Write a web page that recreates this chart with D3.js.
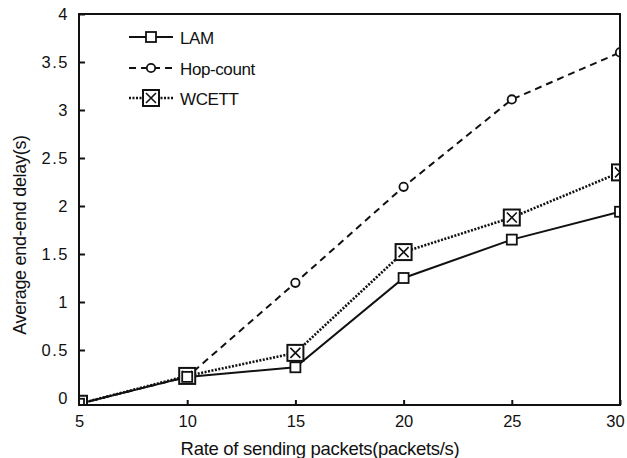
<!DOCTYPE html>
<html><head><meta charset="utf-8">
<script src="https://cdn.jsdelivr.net/npm/d3@7/dist/d3.min.js"></script>
<style>body{margin:0;background:#fff}svg{display:block}</style>
</head><body>
<script>
const rates = [5, 10, 15, 20, 25, 30];
const lam = [-0.06, 0.22, 0.32, 1.25, 1.65, 1.94];
const hop = [-0.06, 0.22, 1.2, 2.2, 3.11, 3.6];
const wcett = [-0.06, 0.23, 0.47, 1.52, 1.88, 2.35];
const yTicks = [0, 0.5, 1, 1.5, 2, 2.5, 3, 3.5, 4];
const seriesNames = ["LAM", "Hop-count", "WCETT"];

const W = 627, H = 458;
const svg = d3.select("body").append("svg").attr("width", W).attr("height", H);
const font = "Liberation Sans, Arial, sans-serif";
const x = d3.scaleLinear().domain([5, 30]).range([79, 620]);
const y = d3.scaleLinear().domain([0, 4]).range([398, 14]);
const yBottom = 405;

svg.append("clipPath").attr("id", "plot").append("rect")
  .attr("x", 79).attr("y", 14).attr("width", 541).attr("height", yBottom - 14);

// frame
svg.append("rect").attr("x", 79).attr("y", 14).attr("width", 541).attr("height", yBottom - 14)
  .attr("fill", "none").attr("stroke", "#111").attr("stroke-width", 2);

// y axis ticks
const ya = svg.append("g").attr("transform", "translate(79,0)")
  .call(d3.axisLeft(y).tickValues(yTicks).tickSize(-6).tickPadding(10).tickFormat(d => d % 1 ? d3.format(".1f")(d) : String(d)));
ya.select(".domain").remove();
ya.selectAll("line").attr("stroke", "#111").attr("stroke-width", 2);
ya.selectAll("text").attr("font-family", font).attr("font-size", 16.5).attr("fill", "#111").attr("letter-spacing", "1.5px");

// x axis ticks
const xa = svg.append("g").attr("transform", `translate(0,${yBottom})`)
  .call(d3.axisBottom(x).tickValues(rates).tickSize(-5).tickPadding(10));
xa.select(".domain").remove();
xa.selectAll("line").attr("stroke", "#111").attr("stroke-width", 2);
xa.selectAll("text").attr("font-family", font).attr("font-size", 16.5).attr("fill", "#111")
  .attr("dx", d => d === 30 ? -5 : 0);

// axis titles
svg.append("text").attr("x", 320).attr("y", 455).attr("text-anchor", "middle")
  .attr("font-family", font).attr("font-size", 18.5).attr("fill", "#111").attr("letter-spacing", "-0.3px")
  .text("Rate of sending packets(packets/s)");
svg.append("text").attr("transform", "translate(26,235) rotate(-90)").attr("text-anchor", "middle")
  .attr("font-family", font).attr("font-size", 18).attr("fill", "#111").attr("letter-spacing", "-0.3px")
  .text("Average end-end delay(s)");

const line = d3.line().x(d => x(d[0])).y(d => y(d[1]));
const series = [
  {name: seriesNames[0], vals: lam, dash: null, marker: "sq"},
  {name: seriesNames[1], vals: hop, dash: "7,5", marker: "circ"},
  {name: seriesNames[2], vals: wcett, dash: "2,1.5", marker: "bx"}
];

function drawMarker(g, cx, cy, type) {
  if (type === "sq") {
    g.append("rect").attr("x", cx - 5).attr("y", cy - 5).attr("width", 10).attr("height", 10)
      .attr("fill", "#fff").attr("stroke", "#111").attr("stroke-width", 1.8);
  } else if (type === "circ") {
    g.append("circle").attr("cx", cx).attr("cy", cy).attr("r", 4.2)
      .attr("fill", "#fff").attr("stroke", "#111").attr("stroke-width", 1.8);
  } else {
    g.append("rect").attr("x", cx - 8).attr("y", cy - 8).attr("width", 16).attr("height", 16)
      .attr("fill", "#fff").attr("stroke", "#111").attr("stroke-width", 2);
    g.append("path").attr("d", `M${cx-5},${cy-5}L${cx+5},${cy+5}M${cx+5},${cy-5}L${cx-5},${cy+5}`)
      .attr("stroke", "#111").attr("stroke-width", 1.6);
  }
}

const plotG = svg.append("g").attr("clip-path", "url(#plot)");
series.forEach(s => {
  const pts = rates.map((r, i) => [r, s.vals[i]]);
  plotG.append("path").attr("d", line(pts)).attr("fill", "none").attr("stroke", "#111")
    .attr("stroke-width", s.marker === "bx" ? 2.6 : 2).attr("stroke-dasharray", s.dash);
});
[series[2], series[1], series[0]].forEach(s => {
  const g = plotG.append("g");
  rates.forEach((r, i) => drawMarker(g, x(r), y(s.vals[i]), s.marker));
});
// redraw frame edges on top
svg.append("rect").attr("x", 79).attr("y", 14).attr("width", 541).attr("height", yBottom - 14)
  .attr("fill", "none").attr("stroke", "#111").attr("stroke-width", 2);

// legend
const legY = [37, 68, 98];
series.forEach((s, i) => {
  const g = svg.append("g");
  g.append("line").attr("x1", 129).attr("x2", 173).attr("y1", legY[i]).attr("y2", legY[i])
    .attr("stroke", "#111").attr("stroke-width", s.marker === "bx" ? 2.4 : 2).attr("stroke-dasharray", s.dash);
  drawMarker(g, 151, legY[i], s.marker);
  g.append("text").attr("x", 180).attr("y", legY[i] + 7).attr("font-family", font)
    .attr("font-size", 17).attr("fill", "#111").attr("letter-spacing", "-0.4px").text(s.name);
});
</script>
</body></html>
